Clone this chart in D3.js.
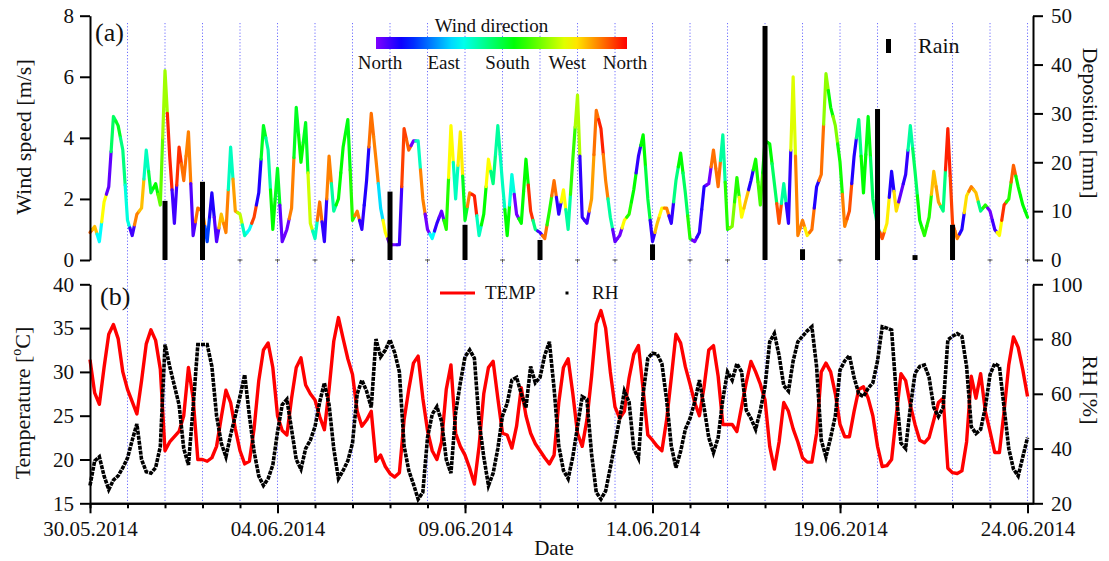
<!DOCTYPE html>
<html>
<head>
<meta charset="utf-8">
<script src="https://cdn.jsdelivr.net/npm/d3@7"></script>
<style>
  body { margin: 0; background: #fff; }
</style>
</head>
<body>
<div id="chart-area"></div>
<script>
const width = 1109, height = 561;
const font = "Liberation Serif, Times New Roman, serif";

// samples every 3 hours from 30.05.2014 00:00
const start = Date.UTC(2014, 4, 30);
const stepMs = 3 * 3600 * 1000;

const windSpeed = [
    0.9, 1.1, 0.6, 1.9, 2.4, 4.7, 4.4, 3.6,
    1.3, 0.8, 1.5, 1.7, 3.6, 2.2, 2.5, 1.8,
    6.2, 3.4, 1.2, 3.7, 2.6, 4.2, 0.8, 1.7,
    1.6, 0.6, 2.2, 0.6, 1.5, 0.9, 3.7, 1.6,
    1.5, 0.8, 1.0, 1.4, 2.2, 4.4, 3.6, 1.0,
    3.0, 0.6, 1.0, 1.7, 5.0, 3.2, 4.5, 1.2,
    0.7, 1.9, 0.6, 3.4, 1.6, 2.0, 3.7, 4.6,
    1.3, 1.6, 1.0, 2.6, 4.8, 3.3, 1.7, 0.9,
    0.5, 0.5, 0.5, 4.3, 3.6, 3.9, 3.9, 2.0,
    1.0, 0.7, 1.2, 1.6, 1.0, 4.4, 2.0, 4.2,
    1.3, 2.2, 2.1, 0.8, 1.5, 3.3, 2.5, 4.4,
    2.5, 0.8, 2.8, 1.5, 1.2, 3.3, 1.6, 1.0,
    0.9, 0.7, 1.6, 2.6, 1.5, 2.3, 1.0, 3.3,
    5.4, 1.4, 1.2, 2.0, 4.9, 4.3, 2.6, 1.4,
    0.6, 0.8, 1.3, 1.5, 2.3, 3.4, 4.1, 2.0,
    0.6, 1.2, 1.7, 1.7, 1.2, 2.6, 3.5, 2.2,
    0.7, 0.6, 0.9, 2.4, 2.5, 3.6, 2.4, 4.1,
    1.0, 1.1, 2.7, 1.4, 2.0, 2.6, 3.3, 1.8,
    3.9, 3.8, 2.5, 1.2, 2.5, 1.2, 6.0, 0.8,
    1.3, 0.8, 1.0, 2.4, 2.8, 6.1, 5.0, 4.4,
    3.2, 1.1, 1.6, 3.4, 4.6, 2.2, 4.7, 2.0,
    1.1, 0.7, 1.2, 2.9, 1.6, 2.2, 2.8, 4.4,
    2.9, 1.3, 0.8, 1.4, 2.9, 1.9, 1.6, 4.3,
    1.2, 0.7, 1.0, 2.1, 2.4, 2.2, 1.6, 1.8,
    1.6, 1.0, 0.8, 1.8, 2.0, 3.1, 2.4, 1.8,
    1.4
];

// wind direction in degrees (0 = North)
const windDir = [
    330, 300, 120, 280, 10, 170, 190, 160,
    130, 20, 320, 300, 140, 180, 200, 230,
    250, 350, 20, 345, 325, 320, 15, 325,
    320, 60, 30, 15, 300, 320, 140, 310,
    260, 140, 120, 340, 30, 190, 150, 200,
    190, 10, 5, 320, 190, 200, 190, 265,
    140, 325, 25, 320, 150, 200, 200, 195,
    210, 320, 25, 30, 325, 320, 110, 280,
    5, 5, 20, 340, 330, 5, 140, 320,
    5, 120, 25, 10, 210, 280, 140, 285,
    190, 320, 350, 140, 200, 280, 160, 150,
    140, 200, 130, 5, 200, 200, 345, 160,
    20, 325, 210, 325, 25, 280, 150, 215,
    255, 25, 20, 310, 325, 350, 320, 150,
    10, 5, 280, 210, 200, 25, 200, 180,
    25, 300, 280, 320, 25, 160, 200, 170,
    210, 5, 25, 30, 5, 325, 325, 150,
    210, 240, 210, 280, 300, 30, 205, 220,
    200, 200, 170, 335, 150, 25, 270, 320,
    320, 285, 325, 30, 325, 245, 200, 240,
    205, 320, 335, 30, 160, 200, 195, 170,
    160, 335, 285, 30, 290, 10, 25, 150,
    170, 200, 210, 210, 300, 310, 160, 350,
    340, 320, 30, 290, 320, 300, 160, 210,
    5, 20, 280, 345, 210, 330, 200, 200,
    200
];

const temp = [
    31.4, 27.6, 26.3, 30.5, 34.3, 35.4, 33.8, 30.0,
    28.0, 26.6, 25.2, 29.0, 33.2, 34.8, 33.6, 30.3,
    21.0, 22.0, 22.6, 23.2, 25.0, 30.5, 27.0, 20.0,
    20.0, 19.8, 20.2, 21.5, 24.8, 27.9, 26.5, 23.5,
    21.0, 19.5, 19.8, 23.5, 29.0, 32.5, 33.3, 30.5,
    25.0, 23.3, 22.8, 27.0, 30.5, 31.6, 28.5, 27.5,
    26.8, 24.9, 23.4, 28.0, 33.5, 36.2, 33.8, 31.5,
    29.7, 25.5, 23.8, 24.5, 25.5, 19.8, 20.5, 19.2,
    18.4, 18.0, 18.5, 24.5, 28.0, 31.0, 31.8, 27.0,
    23.3, 21.0, 20.0, 22.0, 28.0, 30.8, 23.0, 21.5,
    20.5, 19.0, 17.2, 21.5, 27.5, 30.5, 31.2, 27.0,
    23.0, 22.8, 21.3, 23.8, 28.2, 25.0, 23.0, 21.8,
    21.0, 20.2, 19.5, 20.5, 26.5, 30.5, 31.5, 27.5,
    23.0, 21.5, 24.5, 29.5, 35.5, 37.0, 35.0, 30.0,
    26.0, 24.7, 25.5, 29.3, 32.0, 33.0, 28.0, 22.8,
    22.2, 21.5, 21.0, 24.5, 29.3, 34.3, 33.3, 30.6,
    28.6, 26.5, 25.0, 28.3, 32.5, 33.0, 29.5, 24.0,
    24.0, 24.0, 23.2, 26.0, 28.8, 31.2, 30.0, 28.6,
    26.8, 21.5, 18.9, 22.0, 26.5, 25.5, 23.5, 22.0,
    20.2, 19.7, 19.7, 23.0, 30.0, 31.0, 30.0, 27.5,
    24.0, 22.6, 22.6, 25.5, 28.0, 28.3, 27.0, 25.0,
    21.5, 19.2, 19.3, 20.0, 25.0, 29.8, 29.0, 26.2,
    24.0, 22.2, 21.9, 22.5, 24.5, 26.5, 27.0, 19.0,
    18.5, 18.4, 18.7, 22.0, 29.5, 27.0, 29.8, 25.5,
    23.2, 20.8, 20.8, 25.5, 30.8, 34.0, 32.8, 30.2,
    27.2
];

const rh = [
    26.5, 35.5, 37, 30, 25, 28.5, 30, 33,
    36.5, 43, 49, 36, 31.5, 31, 33, 40.7,
    78, 70, 63, 56, 40, 34, 55, 78,
    78, 78, 70, 52, 42, 37, 45, 52,
    59, 67, 52, 39, 30, 26.5, 29, 34,
    46, 56, 58, 47, 36, 32.5, 40, 43,
    48, 57, 64, 56, 40, 29, 32, 35.5,
    42, 60, 65, 61, 55, 80, 73.5, 76,
    79.7, 75, 68, 41, 32, 27, 21.5, 24,
    44, 52.5, 55.3, 50, 36, 31, 53, 64,
    73.5, 76, 73, 50, 37, 26.5, 31, 40,
    52, 56.5, 65, 66, 60, 55, 70, 64,
    66, 74, 79, 62, 41, 32, 29, 37,
    48, 59, 58, 38, 24, 21.5, 24.5, 33,
    42, 51, 61, 57, 40, 36.5, 60, 73,
    74.8, 74.5, 71, 58, 41, 33, 39, 47,
    51, 57, 65, 55, 44, 38.5, 44, 58,
    68, 65, 71, 68, 54, 51, 47, 54,
    62.6, 79, 82, 74, 63, 61, 72, 79,
    81, 83, 84.5, 70, 43, 37, 44, 52,
    68.7, 72, 74, 66, 60, 59, 62, 64,
    72, 84.5, 84, 83.3, 60, 42, 40, 55,
    67.5, 70, 70.5, 66, 55, 51.7, 55, 79.7,
    81, 82, 81, 70, 48, 45.5, 47, 55,
    67, 71, 70, 55, 40, 32.5, 30, 37,
    44
];

// daily rain deposition [mm]
const rainDates = ["2014-06-01", "2014-06-02", "2014-06-03", "2014-06-04", "2014-06-05", "2014-06-06",
    "2014-06-07", "2014-06-08", "2014-06-09", "2014-06-10", "2014-06-11", "2014-06-12",
    "2014-06-13", "2014-06-14", "2014-06-15", "2014-06-16", "2014-06-17", "2014-06-18",
    "2014-06-19", "2014-06-20", "2014-06-21", "2014-06-22", "2014-06-23", "2014-06-24"];
const rainMm = [12.1, 16.0, 0, 0, 0, 0,
    14.0, 0, 7.2, 0, 4.1, 0,
    0, 3.2, 0, 0, 47.9, 2.2,
    0, 30.9, 1.0, 7.2, 0, 0];

const dateTicks = ["2014-05-30", "2014-06-04", "2014-06-09", "2014-06-14", "2014-06-19", "2014-06-24"];
const windTicks = [0, 2, 4, 6, 8];
const rainTicks = [0, 10, 20, 30, 40, 50];
const tempTicks = [15, 20, 25, 30, 35, 40];
const rhTicks = [20, 40, 60, 80, 100];
const dirLabels = ["North", "East", "South", "West", "North"];
const dirLabelDeg = [0, 90, 180, 270, 360];

// -----------------------------------------------------------------------------------------------------------------

const parseDay = d3.utcParse("%Y-%m-%d");
const times = windSpeed.map((v, i) => new Date(start + i * stepMs));

const left = 90, right = 1033;

const x = d3.scaleUtc()
    .domain([new Date(start), new Date(Date.UTC(2014, 5, 24, 3, 30))])
    .range([left, right]);

const yWind = d3.scaleLinear().domain([0, 8]).range([260, 15.7]);
const yRain = d3.scaleLinear().domain([0, 50]).range([260, 15.7]);
const yTemp = d3.scaleLinear().domain([15, 40]).range([503.3, 284.3]);
const yRH = d3.scaleLinear().domain([20, 100]).range([503.3, 284.3]);
const dirX = d3.scaleLinear().domain([0, 360]).range([376, 627]);

// violet (N) -> blue -> cyan -> green -> yellow -> orange -> red (N)
const dirColor = deg => d3.hsl(270 * (1 - deg / 360), 1, 0.5).formatHex();

const svg = d3.select("#chart-area").append("svg")
    .attr("width", width)
    .attr("height", height)
    .style("font-family", font);

// daily dotted guide lines
const days = d3.utcDay.range(new Date(start + 86400000), x.domain()[1]);
svg.append("g")
    .attr("stroke", "#6e6eff")
    .attr("stroke-width", 1)
    .attr("stroke-dasharray", "1.2,2")
    .selectAll("line")
    .data(days)
    .join("line")
        .attr("x1", d => x(d)).attr("x2", d => x(d))
        .attr("y1", 23).attr("y2", yTemp(15));

// wind speed coloured by direction: each sample colours the line halfway to its neighbours
const px = times.map(t => x(t));
const py = windSpeed.map(v => yWind(v));
const last = windSpeed.length - 1;
const windSegs = windSpeed.map((v, i) => ({
    pts: [
        i > 0 ? [(px[i - 1] + px[i]) / 2, (py[i - 1] + py[i]) / 2] : [px[i], py[i]],
        [px[i], py[i]],
        i < last ? [(px[i] + px[i + 1]) / 2, (py[i] + py[i + 1]) / 2] : [px[i], py[i]]
    ],
    dir: windDir[i]
}));
svg.append("g")
    .attr("fill", "none")
    .attr("stroke-width", 3.2)
    .attr("stroke-linecap", "round")
    .attr("stroke-linejoin", "round")
    .selectAll("path")
    .data(windSegs)
    .join("path")
        .attr("d", d => d3.line()(d.pts))
        .attr("stroke", d => dirColor(d.dir));

// rain bars and zero markers
const rain = rainDates.map((d, i) => ({t: parseDay(d), mm: rainMm[i]}));
svg.append("g")
    .selectAll("rect")
    .data(rain.filter(d => d.mm > 0))
    .join("rect")
        .attr("x", d => x(d.t) - 2.5)
        .attr("width", 5)
        .attr("y", d => yRain(d.mm))
        .attr("height", d => yRain(0) - yRain(d.mm))
        .attr("fill", "#000");

const zeroMarks = svg.append("g")
    .attr("stroke", "#555")
    .attr("stroke-width", 1)
    .selectAll("g")
    .data(rain.filter(d => d.mm === 0))
    .join("g")
        .attr("transform", d => `translate(${x(d.t)},${yRain(0)})`);
zeroMarks.append("line").attr("x1", -2.5).attr("x2", 2.5);
zeroMarks.append("line").attr("y1", -1).attr("y2", 2.5);

// temperature and RH
svg.append("path")
    .attr("fill", "none")
    .attr("stroke", "#ff0000")
    .attr("stroke-width", 3.4)
    .attr("stroke-linejoin", "round")
    .attr("d", d3.line().x((d, i) => x(times[i])).y(d => yTemp(d))(temp));

svg.append("path")
    .attr("fill", "none")
    .attr("stroke", "#000")
    .attr("stroke-width", 3.6)
    .attr("stroke-dasharray", "4,1")
    .attr("d", d3.line().x((d, i) => x(times[i])).y(d => yRH(d))(rh));

// axes
const styleAxis = g => {
    g.attr("font-family", font).attr("font-size", 21);
    g.select(".domain").attr("stroke", "#000").attr("stroke-width", 2);
    g.selectAll(".tick line").attr("stroke", "#000").attr("stroke-width", 2);
    g.selectAll(".tick text").attr("fill", "#111");
};

svg.append("g")
    .attr("transform", `translate(${left},0)`)
    .call(d3.axisLeft(yWind).tickValues(windTicks).tickSize(10).tickSizeOuter(0).tickPadding(6))
    .call(styleAxis);

svg.append("g")
    .attr("transform", `translate(${right},0)`)
    .call(d3.axisRight(yRain).tickValues(rainTicks).tickSize(10).tickSizeOuter(0).tickPadding(8))
    .call(styleAxis);

svg.append("g")
    .attr("transform", `translate(${left},0)`)
    .call(d3.axisLeft(yTemp).tickValues(tempTicks).tickSize(10).tickSizeOuter(0).tickPadding(6))
    .call(styleAxis);

svg.append("g")
    .attr("transform", `translate(${right},0)`)
    .call(d3.axisRight(yRH).tickValues(rhTicks).tickSize(10).tickSizeOuter(0).tickPadding(8))
    .call(styleAxis);

svg.append("g")
    .attr("transform", `translate(0,${yTemp(15)})`)
    .call(d3.axisBottom(x).ticks(d3.utcDay).tickSize(5).tickSizeOuter(0).tickFormat(""))
    .call(styleAxis);

svg.append("g")
    .attr("transform", `translate(0,${yTemp(15)})`)
    .call(d3.axisBottom(x).tickValues(dateTicks.map(parseDay)).tickSize(10).tickSizeOuter(0)
        .tickPadding(8).tickFormat(d3.utcFormat("%d.%m.%Y")))
    .call(styleAxis);

// axis titles
svg.append("text")
    .attr("transform", "translate(31,137) rotate(-90)")
    .attr("text-anchor", "middle")
    .attr("font-size", 22)
    .attr("fill", "#111")
    .text("Wind speed [m/s]");

const tTitle = svg.append("text")
    .attr("transform", "translate(30,403) rotate(-90)")
    .attr("text-anchor", "middle")
    .attr("font-size", 22)
    .attr("fill", "#111");
tTitle.append("tspan").text("Temperature [");
tTitle.append("tspan").attr("font-size", 14).attr("dy", -9).text("o");
tTitle.append("tspan").attr("dy", 9).text("C]");

svg.append("text")
    .attr("transform", "translate(1083,123) rotate(90)")
    .attr("text-anchor", "middle")
    .attr("font-size", 22)
    .attr("fill", "#111")
    .text("Deposition [mm]");

svg.append("text")
    .attr("transform", "translate(1083,390) rotate(90)")
    .attr("text-anchor", "middle")
    .attr("font-size", 22)
    .attr("fill", "#111")
    .text("RH [%]");

svg.append("text")
    .attr("x", 554).attr("y", 555)
    .attr("text-anchor", "middle")
    .attr("font-size", 21)
    .attr("fill", "#111")
    .text("Date");

// panel letters
svg.append("text").attr("x", 95).attr("y", 41).attr("font-size", 26).attr("fill", "#111").text("(a)");
svg.append("text").attr("x", 100).attr("y", 305).attr("font-size", 26).attr("fill", "#111").text("(b)");

// wind direction colour bar
const grad = svg.append("defs").append("linearGradient").attr("id", "dirGrad");
grad.selectAll("stop")
    .data(d3.range(0, 1.0001, 0.05))
    .join("stop")
        .attr("offset", d => d)
        .attr("stop-color", d => dirColor(d * 360));

svg.append("rect")
    .attr("x", dirX(0)).attr("y", 37)
    .attr("width", dirX(360) - dirX(0)).attr("height", 12)
    .attr("fill", "url(#dirGrad)");

svg.append("text")
    .attr("x", dirX(180) - 10).attr("y", 32)
    .attr("text-anchor", "middle")
    .attr("font-size", 19)
    .attr("fill", "#111")
    .text("Wind direction");

svg.append("g")
    .selectAll("text")
    .data(dirLabels)
    .join("text")
        .attr("x", (d, i) => dirX(dirLabelDeg[i]) + [4, 5, 6, 3, -2][i])
        .attr("y", 69)
        .attr("text-anchor", "middle")
        .attr("font-size", 19)
        .attr("fill", "#111")
        .text(d => d);

// rain legend
svg.append("rect").attr("x", 886).attr("y", 39).attr("width", 5).attr("height", 14).attr("fill", "#000");
svg.append("text").attr("x", 918).attr("y", 53).attr("font-size", 22).attr("fill", "#111").text("Rain");

// TEMP / RH legend
svg.append("line")
    .attr("x1", 440).attr("x2", 475).attr("y1", 293).attr("y2", 293)
    .attr("stroke", "#ff0000").attr("stroke-width", 3);
svg.append("text").attr("x", 485).attr("y", 299).attr("font-size", 19).attr("fill", "#111").text("TEMP");
svg.append("rect").attr("x", 565.5).attr("y", 291.5).attr("width", 3).attr("height", 3).attr("fill", "#000");
svg.append("text").attr("x", 592).attr("y", 299).attr("font-size", 19).attr("fill", "#111").text("RH");
</script>
</body>
</html>
